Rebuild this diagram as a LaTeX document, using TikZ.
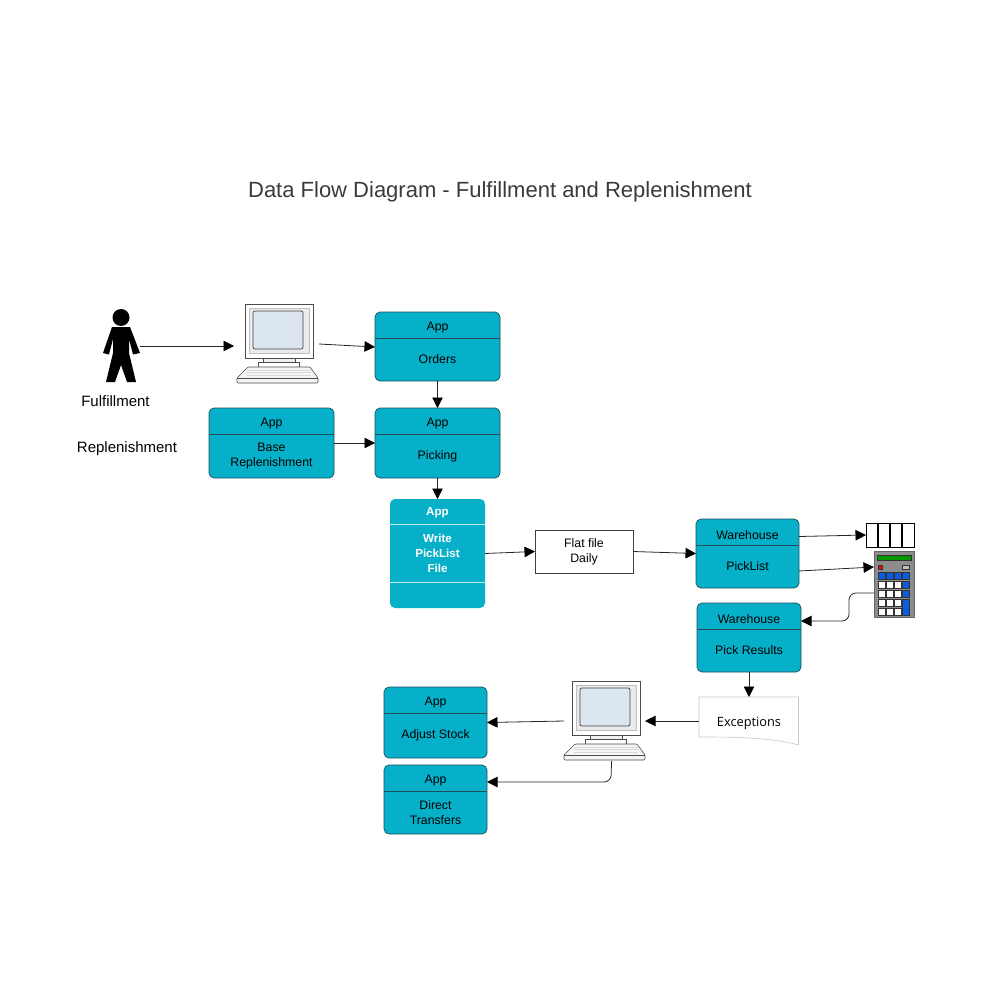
\documentclass[tikz,border=0pt]{standalone}
\usepackage{fontspec}
\setmainfont{Liberation Sans}
\newfontfamily\docfont{Open Sans}
\usetikzlibrary{arrows.meta}
\usetikzlibrary{positioning}
\definecolor{appteal}{HTML}{06B0C9}
\definecolor{appedge}{HTML}{1F4F5C}
\definecolor{screenblue}{HTML}{DCE6F1}
\definecolor{keyblue}{HTML}{0A5CE0}
\definecolor{titlegray}{HTML}{3A3A3A}
\tikzstyle{appbox} = [rectangle, rounded corners=5pt, fill=appteal, draw=appedge, line width=0.7pt, outer sep=0pt, inner sep=0pt]
\tikzstyle{writebox} = [rectangle, rounded corners=5pt, fill=appteal, outer sep=0pt, inner sep=0pt]
\tikzstyle{boxtext} = [font=\fontsize{12.3}{15}\selectfont, align=center, text=black]
\tikzstyle{writetext} = [font=\fontsize{11.6}{15}\selectfont\bfseries, align=center, text=white]
\tikzstyle{flow} = [line width=0.8pt, draw=black!85, -{Triangle[length=10.5pt,width=10.5pt,color=black]}]
\tikzstyle{filebox} = [rectangle, draw=black!75, fill=white, line width=0.7pt, outer sep=0pt, minimum width=98pt, minimum height=43pt, inner sep=0pt]
\tikzstyle{hitbox} = [rectangle, outer sep=0pt, inner sep=0pt]
\tikzstyle{caption} = [font=\fontsize{15}{17}\selectfont, text=black]
\tikzset{
  computer/.pic={
    \draw[fill=white, draw=black!70, line width=0.6pt] (8,0) rectangle (76,54);
    \draw[fill=black!8, draw=black!25, line width=0.6pt] (12,4) rectangle (72,49);
    \draw[fill=screenblue, draw=black!75, line width=0.7pt, rounded corners=2pt] (16,7) rectangle (66,45);
    \draw[fill=black!6, draw=black!70, line width=0.6pt] (26,54) rectangle (58,58);
    \draw[fill=white, draw=black!70, line width=0.6pt] (21,58) rectangle (62,63);
    \draw[fill=black!4, draw=black!70, line width=0.6pt, rounded corners=1pt] (11,63) -- (73,63) -- (81,74) -- (81,79) -- (0,79) -- (0,74) -- cycle;
    \draw[draw=black!70, line width=0.5pt] (0,74) -- (81,74);
    \foreach \ky in {66,68.5,71}
      \draw[draw=black!15, line width=0.4pt] (10,\ky) -- (74,\ky);
  }
}
% name, centre x, top y, width, bottom y, head, body
\newcommand{\lanebox}[7]{
  \node (#1) [appbox, minimum width=#4pt, minimum height=#5pt-#3pt] at (#2,{(#3+#5)/2}) {};
  \draw[draw=appedge, line width=0.8pt] ([yshift=-26pt]#1.north west) -- ([yshift=-26pt]#1.north east);
  \node (#1head) [boxtext] at (#2,#3+15.8) {#6};
  \node (#1body) [boxtext] at (#2,{(#3+26+#5)/2}) {#7};
}

\begin{document}
\begin{tikzpicture}[x=1pt,y=-1pt]
\useasboundingbox (0,0) rectangle (1000,1000);
\node (title) [font=\fontsize{22}{25}\selectfont, text=titlegray] at (500,192) {Data Flow Diagram - Fulfillment and Replenishment};

% person
\node (person) [hitbox, minimum width=37pt, minimum height=72pt] at (121.5,346) {};
\fill[black] (121,317.5) circle (8.5);
\fill[black] (112,327) -- (130,327) -- (140,353) -- (133,354.5) -- (129,339) -- (129,353) -- (136,382) -- (127,382) -- (121,365) -- (115,382) -- (106,382) -- (113,353) -- (113,339) -- (109,354.5) -- (103,353) -- cycle;
\node (fulfillment) [caption] at (115.5,401.5) {Fulfillment};
\node (replenishment) [caption] at (127,448.5) {Replenishment};

% computers
\node (pcorders) [hitbox, minimum width=81pt, minimum height=80pt] at (277.5,344) {};
\pic at (237,304) {computer};
\node (pcstock) [hitbox, minimum width=81pt, minimum height=80pt] at (604.5,721) {};
\pic at (564,681) {computer};

% app boxes
\lanebox{orders}{437.5}{312}{125}{381}{App}{Orders}
\lanebox{base}{271.5}{408}{125}{478}{App}{Base\\Replenishment}
\lanebox{picking}{437.5}{408}{125}{478}{App}{Picking}
\lanebox{picklist}{747.5}{519}{103}{588}{Warehouse}{PickList}
\lanebox{results}{749}{603}{104}{672}{Warehouse}{Pick Results}
\lanebox{adjust}{435.5}{687}{103}{758}{App}{Adjust Stock}
\lanebox{direct}{435.5}{765}{103}{834}{App}{Direct\\Transfers}

% write box
\node (write) [writebox, minimum width=95pt, minimum height=109pt] at (437.5,553.5) {};
\draw[draw=white!75!appteal, line width=0.8pt] ([yshift=-25pt]write.north west) -- ([yshift=-25pt]write.north east);
\draw[draw=white!75!appteal, line width=0.8pt] ([yshift=-83pt]write.north west) -- ([yshift=-83pt]write.north east);
\node (writehead) [writetext] at (437.5,512.5) {App};
\node (writebody) [writetext] at (437.5,553.5) {Write\\PickList\\File};

% flat file
\node (flat) [filebox, boxtext] at (584,551.5) {Flat file\\Daily};

% exceptions
\node (exceptions) [hitbox, minimum width=100pt, minimum height=48pt] at (749,721) {};
\draw[draw=black!22, fill=white, line width=0.6pt] (699,697) -- (798.5,697) -- (798.5,745) .. controls (770,737) and (730,737) .. (699,737) -- cycle;
\node (exceptionstext) [font=\docfont\fontsize{12.8}{15}\selectfont, text=black] at (749,723) {Exceptions};

% rack
\node (rack) [rectangle, draw=black, fill=white, line width=0.7pt, outer sep=0pt, inner sep=0pt, minimum width=48pt, minimum height=24pt] at (890,535) {};
\foreach \rx in {878,890,902}
  \draw[line width=1.3pt] (\rx,523) -- (\rx,547);

% calculator
\node (calc) [rectangle, draw=black!60, fill=black!45, line width=0.6pt, outer sep=0pt, inner sep=0pt, minimum width=40pt, minimum height=66pt] at (894,584) {};
\draw[fill=green!60!black, draw=black!80, line width=0.5pt] (877,555) rectangle (911,560.5);
\draw[fill=red, draw=black!80, line width=0.5pt] (878,565) rectangle (882,569);
\draw[fill=black!25, draw=black!80, line width=0.5pt] (902,565) rectangle (909,569);
\foreach \kx in {878,886.2,894.4}
  \foreach \ky in {581,590,599,608}
    \draw[fill=white, draw=black!80, line width=0.4pt] (\kx,\ky) rectangle ++(6.8,6.8);
\foreach \kx in {878,886.2,894.4,902.6}
  \draw[fill=keyblue, draw=black!80, line width=0.4pt] (\kx,572) rectangle ++(6.8,6.8);
\foreach \ky in {581,590}
  \draw[fill=keyblue, draw=black!80, line width=0.4pt] (902.6,\ky) rectangle ++(6.8,6.8);
\draw[fill=keyblue, draw=black!80, line width=0.4pt] (902.6,599) rectangle (909.4,614.8);

% connectors
\draw[flow] (person.east) -- ([xshift=-3pt,yshift=-2pt]pcorders.west);
\draw[flow] ([xshift=1pt]pcorders.east) -- ([yshift=-0.5pt]orders.west);
\draw[flow] (orders.south) -- (picking.north);
\draw[flow] (base.east) -- (picking.west);
\draw[flow] (picking.south) -- (write.north);
\draw[flow] (write.east) -- (flat.west);
\draw[flow] (flat.east) -- (picklist.west);
\draw[flow] ([yshift=17pt]picklist.east) -- (rack.west);
\draw[flow] ([yshift=-17.5pt]picklist.east) -- ([yshift=17pt]calc.west);
\draw[flow, rounded corners=7pt] ([yshift=-9pt]calc.west) -- (849,593) -- (849,621) -- ([yshift=16.5pt]results.east);
\draw[flow] (results.south) -- (exceptions.north);
\draw[flow] (exceptions.west) -- (pcstock.east);
\draw[flow] (pcstock.west) -- (adjust.east);
\draw[flow, rounded corners=7pt] ([xshift=7pt]pcstock.south) -- (611,782) -- ([yshift=17.5pt]direct.east);
\end{tikzpicture}
\end{document}
